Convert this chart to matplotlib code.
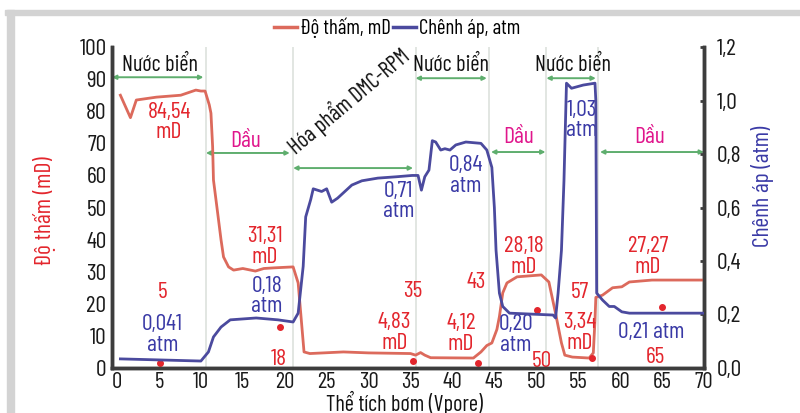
import matplotlib
matplotlib.use("Agg")
import matplotlib.pyplot as plt
from matplotlib.patches import Rectangle

plt.rcParams["font.family"] = ["Barlow Condensed", "Archivo Narrow", "DejaVu Sans"]

RED_LINE = "#dc6a5c"
RED_TXT = "#e3262d"
BLUE_LINE = "#4b4a9e"
BLUE_TXT = "#3a3aa6"
MAGENTA = "#e0168c"
GREEN = "#5fae6e"
SPINE = "#3d3d3d"

# ---- permeability (mD), left axis ----
perm_x = [0.4, 1.6, 2.3, 4.7, 7.6, 9.4, 10.0, 10.5, 11.0, 11.2, 11.4, 11.5, 12.0, 12.4,
          12.7, 13.3, 13.9, 15.0, 16.5, 17.5, 18.7, 21.0, 21.6, 22.3, 23.0, 27.0, 30.0,
          35.0, 35.6, 36.2, 36.7, 37.4, 42.5, 43.4, 44.1, 44.7, 45.3, 45.6, 46.0, 46.5,
          47.7, 50.6, 51.5, 52.3, 53.0, 53.4, 54.3, 56.3, 56.8, 57.0, 57.1, 57.9, 59.1,
          60.2, 61.1, 63.8, 70.0]
perm_y = [85.0, 78.0, 83.5, 84.4, 85.0, 86.6, 86.3, 86.3, 82.0, 79.4, 69.0, 58.6, 48.3, 40.0,
          34.6, 31.5, 30.5, 31.0, 30.2, 31.0, 31.2, 31.5, 26.5, 5.0, 4.5, 5.0, 4.7,
          4.5, 4.0, 4.8, 4.0, 3.2, 3.1, 5.0, 7.0, 7.8, 12.0, 16.0, 23.4, 26.5,
          28.4, 29.0, 26.8, 17.0, 7.8, 4.0, 3.4, 3.1, 4.7, 15.0, 22.0, 22.7, 25.0,
          25.3, 26.8, 27.4, 27.4]

# ---- pressure difference (atm), right axis ----
dp_x = [0.4, 10.0, 10.9, 11.5, 12.4, 13.5, 16.6, 19.2, 21.0, 21.6, 22.2, 22.5, 23.1, 23.4,
        24.4, 25.0, 25.6, 26.3, 28.0, 29.2, 31.1, 33.3, 35.2, 35.9, 36.3, 36.7, 37.2,
        37.6, 38.0, 38.6, 39.1, 39.7, 40.4, 41.6, 43.4, 44.1, 44.7, 45.0, 45.2, 45.6,
        46.0, 46.8, 52.0, 52.3, 52.6, 53.0, 53.3, 53.6, 54.2, 55.6, 57.0, 57.1, 57.2,
        57.9, 58.7, 59.3, 60.2, 61.1, 70.0]
dp_y = [0.034, 0.026, 0.06, 0.116, 0.153, 0.18, 0.187, 0.18, 0.172, 0.205, 0.38, 0.565, 0.63, 0.67,
        0.66, 0.67, 0.62, 0.635, 0.684, 0.70, 0.71, 0.715, 0.72, 0.72, 0.665, 0.715, 0.74,
        0.85, 0.845, 0.815, 0.82, 0.815, 0.834, 0.845, 0.84, 0.815, 0.75, 0.60, 0.44, 0.28,
        0.23, 0.205, 0.198, 0.187, 0.28, 0.44, 0.70, 1.065, 1.046, 1.058, 1.065, 1.0, 0.28,
        0.254, 0.23, 0.23, 0.21, 0.205, 0.205]

# ---- injection stage boundaries and labels ----
separators = [10.6, 21.0, 35.7, 44.4, 51.2, 57.3]
stage_names = ["Nước biển", "Dầu", "Hóa phẩm DMC-RPM", "Nước biển", "Dầu", "Nước biển", "Dầu"]
stage_start = [-0.6, 10.6, 21.0, 35.6, 44.6, 51.2, 57.6]
stage_end = [10.3, 20.6, 35.3, 44.1, 51.1, 57.1, 70.0]
stage_arrow_y = [90.6, 67.0, 62.3, 90.3, 67.3, 90.3, 67.3]
stage_text_xy = [(5.1, 94.4), (15.3, 70.7), (21.3, 66.2), (39.8, 94.4),
                 (47.9, 71.7), (54.4, 94.4), (63.5, 71.7)]

# ---- measurement points ----
dot_x = [5.1, 19.4, 35.3, 43.1, 50.1, 56.7, 65.0]
dot_y = [1.5, 12.8, 2.2, 1.6, 18.0, 3.0, 19.0]
dot_names = ["5", "18", "35", "43", "50", "57", "65"]
dot_name_xy = [(5.4, 23.4), (19.3, 2.5), (35.3, 23.7), (42.8, 26.5),
               (50.6, 1.9), (55.2, 23.4), (64.2, 3.4)]

# ---- value annotations ----
perm_notes = ["84,54\nmD", "31,31\nmD", "4,83\nmD", "4,12\nmD", "28,18\nmD", "3,34\nmD", "27,27\nmD"]
perm_note_xy = [(6.2, 76.6), (17.6, 37.7), (33.1, 10.9), (41.0, 10.6),
                (48.5, 34.6), (55.2, 10.9), (63.3, 34.6)]
dp_notes = ["0,041\natm", "0,18\natm", "0,71\natm", "0,84\natm", "0,20\natm", "1,03\natm", "0,21 atm"]
dp_note_xy = [(5.4, 10.3), (17.9, 22.4), (33.6, 52.0), (41.6, 59.8),
              (47.6, 10.3), (55.4, 77.0), (63.7, 11.2)]

fig = plt.figure(figsize=(8.0, 4.13), dpi=100)
fig.patches.append(Rectangle((0.006, 0.964), 0.994, 0.012, transform=fig.transFigure,
                             color="#d3d3d3", zorder=0))
fig.patches.append(Rectangle((0.009, 0.0), 0.008, 0.976, transform=fig.transFigure,
                             color="#d3d3d3", zorder=0))

ax = fig.add_axes([0.14, 0.109, 0.74, 0.777])
ax2 = ax.twinx()

for xs in separators:
    ax.axvline(xs, color="#dde2dd", lw=1.2, zorder=0)

ax.plot(perm_x, perm_y, color=RED_LINE, lw=2.0, zorder=3)
ax2.plot(dp_x, dp_y, color=BLUE_LINE, lw=2.0, zorder=3)
ax.plot(dot_x, dot_y, "o", ms=4, color=RED_TXT, zorder=4)

ax.set_xlim(-0.6, 70)
ax.set_ylim(0, 100)
ax2.set_ylim(0, 1.2)
ax.set_xticks(range(0, 71, 5))
ax.set_yticks(range(0, 101, 10))
ax2.set_yticks([0, 0.2, 0.4, 0.6, 0.8, 1.0, 1.2])
ax2.set_yticklabels(["0,0", "0,2", "0,4", "0,6", "0,8", "1,0", "1,2"])
ax.tick_params(axis="both", length=0, labelsize=17, colors="#1a1a1a")
ax.tick_params(axis="y", pad=4)
ax.tick_params(axis="x", pad=3, labelsize=16.5)
ax2.tick_params(axis="y", direction="in", length=3, width=2, color=SPINE,
                labelsize=17, labelcolor="#1a1a1a", pad=9)

for a in (ax, ax2):
    a.spines["top"].set_visible(False)
    for s in ("left", "bottom", "right"):
        a.spines[s].set_color(SPINE)
        a.spines[s].set_linewidth(2.5)

for i, name in enumerate(stage_names):
    ax.annotate("", xy=(stage_end[i], stage_arrow_y[i]), xytext=(stage_start[i], stage_arrow_y[i]),
                arrowprops=dict(arrowstyle="<|-|>", color=GREEN, lw=1.4,
                                mutation_scale=6, shrinkA=0, shrinkB=0), zorder=2)
    tx, ty = stage_text_xy[i]
    if name == "Dầu":
        ax.text(tx, ty, name, color=MAGENTA, fontsize=17, ha="center", va="center")
    elif name.startswith("Hóa"):
        ax.text(tx, ty, name, color="#111111", fontsize=16, ha="left", va="baseline",
                rotation=40, rotation_mode="anchor")
    else:
        ax.text(tx, ty, name, color="#111111", fontsize=16, ha="center", va="center")

for name, (tx, ty) in zip(dot_names, dot_name_xy):
    ax.text(tx, ty, name, color=RED_TXT, fontsize=17, ha="center", va="center")
for note, (tx, ty) in zip(perm_notes, perm_note_xy):
    ax.text(tx, ty, note, color=RED_TXT, fontsize=17, ha="center", va="center", linespacing=0.95)
for note, (tx, ty) in zip(dp_notes, dp_note_xy):
    ax.text(tx, ty, note, color=BLUE_TXT, fontsize=17, ha="center", va="center", linespacing=0.95)

fig.text(45 / 800, 1 - 211 / 413, "Độ thấm (mD)", color=RED_TXT, fontsize=17,
         rotation=90, ha="center", va="center")
fig.text(763 / 800, 1 - 186 / 413, "Chênh áp (atm)", color=BLUE_TXT, fontsize=17,
         rotation=90, ha="center", va="center")
fig.text(404 / 800, 1 - 411 / 413, "Thể tích bơm (Vpore)", color="#111111", fontsize=16,
         ha="center", va="baseline")

h1, = ax.plot([], [], color=RED_LINE, lw=2.5)
h2, = ax.plot([], [], color=BLUE_LINE, lw=2.5)
fig.legend([h1, h2], ["Độ thấm, mD", "Chênh áp, atm"], loc="center",
           bbox_to_anchor=(0.497, 0.932), ncol=2, frameon=False, fontsize=15,
           handlelength=1.1, handletextpad=0.15, columnspacing=0.1)

fig.savefig("out.png", dpi=100, facecolor="white")
